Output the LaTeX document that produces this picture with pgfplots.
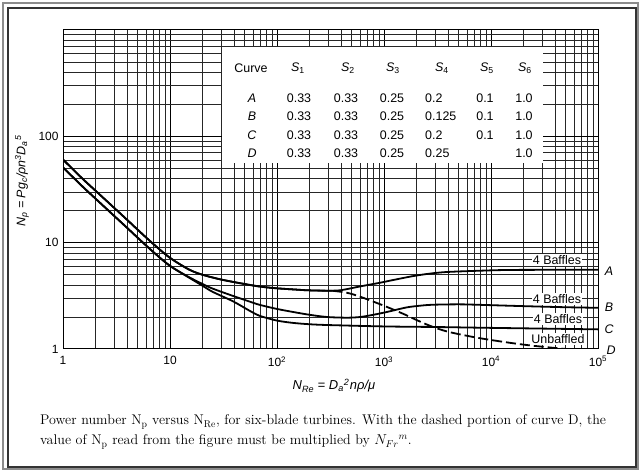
\documentclass[border=0pt]{standalone}
\usepackage{pgfplots}
\pgfplotsset{compat=1.18}
\usepackage{pgfplotstable}
\usepackage{fontspec}
\newfontfamily\hel{Liberation Sans}

\pgfplotstableread{
Re Np
1 60.5
1.5 40.5
2 31.0
3 21.3
4 16.3
5 13.2
7 9.7
10 7.2
15 5.6
20 5.0
30 4.5
50 4.08
70 3.86
100 3.72
150 3.62
200 3.56
300 3.53
400 3.58
600 3.88
920 4.2
1213 4.45
1870 4.85
2700 5.12
3900 5.3
8000 5.45
16000 5.54
100000 5.56
}\curveA

\pgfplotstableread{
Re Np
1 51
1.5 34.2
2 26.1
3 17.9
4 13.7
5 11.1
7 8.15
10 6.05
15 4.75
20 4.1
25 3.7
39 3.15
55 2.8
69 2.6
100 2.38
141 2.23
200 2.1
293 2.0
450 1.97
600 2.0
800 2.1
1067 2.23
1400 2.38
1750 2.49
2700 2.6
5000 2.63
8000 2.6
20000 2.53
50000 2.47
100000 2.44
}\curveB

\pgfplotstableread{
Re Np
1 51
1.5 34.2
2 26.1
3 17.9
4 13.7
5 11.1
7 8.15
10 6.05
15 4.7
20 3.95
25 3.45
39 2.8
55 2.3
69 2.05
100 1.85
141 1.76
200 1.71
300 1.68
1000 1.63
3000 1.61
10000 1.58
100000 1.53
}\curveC

\pgfplotstableread{
Re Np
1 60.5
1.5 40.5
2 31.0
3 21.3
4 16.3
5 13.2
7 9.7
10 7.2
15 5.6
20 5.0
30 4.5
50 4.08
70 3.86
100 3.72
150 3.62
200 3.56
330 3.53
}\curveDsolid

\pgfplotstableread{
Re Np
330 3.53
450 3.38
600 3.1
1000 2.55
1500 2.15
2000 1.88
2700 1.65
4000 1.45
8000 1.26
20000 1.1
50000 1.0
100000 0.95
}\curveDdash

\begin{document}
\begin{tikzpicture}[x=1bp,y=1bp]
\useasboundingbox (0,0) rectangle (641,471);
% frame
\draw[line width=1.2bp, black!45] (3,2) rectangle (638,468);
\draw[line width=1.6bp, black!80] (8,4) rectangle (636,463);

\begin{axis}[
  at={(63bp,122bp)}, anchor=south west,
  scale only axis, width=535bp, height=319bp,
  xmode=log, ymode=log,
  xmin=1, xmax=100000, ymin=1, ymax=1000,
  xtick={1,10,100,1000,10000,100000},
  xticklabels={1,10,10\textsuperscript{2},10\textsuperscript{3},10\textsuperscript{4},10\textsuperscript{5}},
  ytick={1,10,100},
  yticklabels={1,10,100},
  minor xtick={2,3,4,5,6,7,8,9,20,30,40,50,60,70,80,90,200,300,400,500,600,700,800,900,2000,3000,4000,5000,6000,7000,8000,9000,20000,30000,40000,50000,60000,70000,80000,90000},
  minor ytick={2,3,4,5,6,7,8,9,20,30,40,50,60,70,80,90,200,300,400,500,600,700,800,900},
  grid=both,
  major grid style={black, line width=1bp},
  minor grid style={black!85, line width=0.75bp},
  major tick length=0pt, minor tick length=0pt,
  axis line style={black, line width=1bp},
  tick label style={font=\hel\fontsize{12}{13}\selectfont},
  xticklabel style={yshift=-4bp},
  yticklabel style={xshift=-1bp},
]
\addplot[black, line width=1.8bp, smooth] table[x=Re,y=Np] {\curveA};
\addplot[black, line width=1.8bp, smooth] table[x=Re,y=Np] {\curveB};
\addplot[black, line width=1.8bp, smooth] table[x=Re,y=Np] {\curveC};
\addplot[black, line width=1.8bp, smooth] table[x=Re,y=Np] {\curveDsolid};
\addplot[black, line width=1.8bp, smooth, dash pattern=on 10bp off 4bp] table[x=Re,y=Np] {\curveDdash};
\end{axis}

% table
\fill[white] (222,308) rectangle (543,424);
\begin{scope}[every node/.style={font=\hel\fontsize{12.5}{14}\selectfont, inner sep=0pt}]
\node at (251,403) {Curve};
\node at (298,403) {\textit{S}\textsubscript{1}};
\node at (348,403) {\textit{S}\textsubscript{2}};
\node at (393,403) {\textit{S}\textsubscript{3}};
\node at (442,403) {\textit{S}\textsubscript{4}};
\node at (487,403) {\textit{S}\textsubscript{5}};
\node at (525,403) {\textit{S}\textsubscript{6}};
% rows
\node at (252,373) {\textit{A}};
\node at (299,373) {0.33};
\node at (346,373) {0.33};
\node at (392,373) {0.25};
\node[anchor=west] at (425,373) {0.2};
\node at (485,373) {0.1};
\node at (524,373) {1.0};
\node at (252,355) {\textit{B}};
\node at (299,355) {0.33};
\node at (346,355) {0.33};
\node at (392,355) {0.25};
\node[anchor=west] at (425,355) {0.125};
\node at (485,355) {0.1};
\node at (524,355) {1.0};
\node at (252,336) {\textit{C}};
\node at (299,336) {0.33};
\node at (346,336) {0.33};
\node at (392,336) {0.25};
\node[anchor=west] at (425,336) {0.2};
\node at (485,336) {0.1};
\node at (524,336) {1.0};
\node at (252,318) {\textit{D}};
\node at (299,318) {0.33};
\node at (346,318) {0.33};
\node at (392,318) {0.25};
\node[anchor=west] at (425,318) {0.25};
\node at (524,318) {1.0};
\end{scope}

% curve labels
\begin{scope}[every node/.style={font=\hel\fontsize{12.5}{14}\selectfont, fill=white, inner sep=1bp}]
\node at (557,211) {4 Baffles};
\node at (557,172) {4 Baffles};
\node at (558,152) {4 Baffles};
\node at (558,132) {Unbaffled};
\end{scope}
\begin{scope}[every node/.style={font=\hel\itshape\fontsize{12.5}{14}\selectfont, inner sep=0pt}]
\node at (609,200) {A};
\node at (609,164) {B};
\node at (609,142) {C};
\node at (611,121) {D};
\end{scope}

% axis labels
\node[rotate=90, font=\hel\itshape\fontsize{12.5}{13}\selectfont, inner sep=0pt] at (22,290)
  {N\textsubscript{p} = Pg\textsubscript{c}/ρn\textsuperscript{3}D\textsubscript{a}\textsuperscript{5}};
\node[font=\hel\itshape\fontsize{13}{14}\selectfont, inner sep=0pt] at (334,85)
  {N\textsubscript{Re} = D\textsubscript{a}\textsuperscript{2}\kern0.05em nρ/μ};

% caption
\begin{scope}[every node/.style={font=\fontsize{14.1}{16}\selectfont, inner sep=0pt, anchor=base west}]
\node at (40,46) {Power number N\textsubscript{p} versus N\textsubscript{Re}, for six-blade turbines. With the dashed portion of curve D, the};
\node at (40,26) {value of N\textsubscript{p} read from the figure must be multiplied by $N_{Fr}{}^{m}$.};
\end{scope}
\end{tikzpicture}
\end{document}
